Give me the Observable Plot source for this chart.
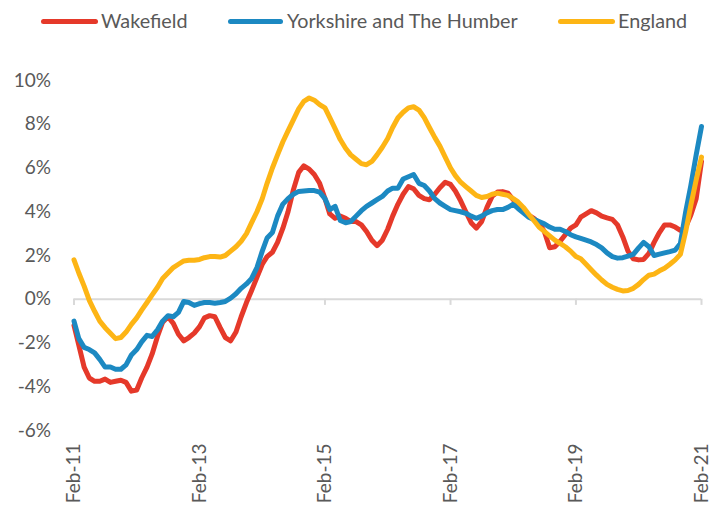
<!DOCTYPE html>
<html>
<head>
<meta charset="utf-8">
<script src="https://cdn.jsdelivr.net/npm/d3@7"></script>
<script src="https://cdn.jsdelivr.net/npm/@observablehq/plot@0.6"></script>
<style>
  html, body { margin: 0; padding: 0; background: #fff; }
  #wrap { position: relative; width: 713px; height: 511px; font-family: Lato, "Open Sans", sans-serif; }
  #legend { position: absolute; left: 0; top: 0; width: 713px; height: 40px; }
  .lg-line { position: absolute; height: 5px; border-radius: 3px; top: 19px; }
  .lg-text { position: absolute; top: 9px; font-size: 19.8px; color: #595959; line-height: 22px; white-space: nowrap; }
  #chart { position: absolute; left: 0; top: 40px; }
</style>
</head>
<body>
<div id="wrap">
  <div id="legend"></div>
  <div id="chart"></div>
</div>
<script>
// ---- data (annual % change, monthly Feb-2011 .. Feb-2021) ----
const seriesNames = ["Wakefield", "Yorkshire and The Humber", "England"];
const seriesColors = ["#E5392A", "#1C89C2", "#FDB515"];
const startMonth = "2011-02";
const tickLabels = ["Feb-11", "Feb-13", "Feb-15", "Feb-17", "Feb-19", "Feb-21"];
const yTicks = [-6, -4, -2, 0, 2, 4, 6, 8, 10];

const wakefield = [
  -1.2, -2.1, -3.1, -3.6, -3.75, -3.75, -3.65, -3.8, -3.75, -3.7, -3.8, -4.2,
  -4.15, -3.6, -3.1, -2.5, -1.7, -1.05, -0.8, -1.1, -1.6, -1.9, -1.75, -1.55,
  -1.25, -0.85, -0.75, -0.8, -1.3, -1.75, -1.9, -1.5, -0.8, -0.15, 0.4, 1.0,
  1.6, 1.95, 2.15, 2.6, 3.25, 4.0, 5.0, 5.8, 6.1, 5.95, 5.7, 5.3,
  4.6, 3.9, 3.7, 3.8, 3.7, 3.55, 3.55, 3.4, 3.1, 2.7, 2.45, 2.7,
  3.2, 3.8, 4.35, 4.8, 5.15, 5.05, 4.75, 4.6, 4.55, 4.8, 5.1, 5.35,
  5.25, 4.95, 4.5, 4.0, 3.5, 3.25, 3.55, 4.2, 4.7, 4.9, 4.92, 4.85,
  4.55, 4.3, 4.05, 3.85, 3.7, 3.5, 3.1, 2.35, 2.4, 2.65, 2.95, 3.25,
  3.4, 3.75, 3.9, 4.05, 3.95, 3.8, 3.72, 3.65, 3.4, 2.85, 2.2, 1.85,
  1.8, 1.82, 2.1, 2.6, 3.05, 3.4, 3.4, 3.3, 3.15, 3.3, 3.85, 4.6,
  6.3
];
const yorkshire = [
  -1.0, -1.8, -2.2, -2.3, -2.45, -2.75, -3.1, -3.1, -3.2, -3.2, -3.0, -2.55,
  -2.3, -1.95, -1.65, -1.7, -1.4, -1.0, -0.75, -0.8, -0.6, -0.1, -0.15, -0.28,
  -0.2, -0.15, -0.15, -0.18, -0.15, -0.1, 0.05, 0.25, 0.5, 0.7, 0.95, 1.45,
  2.2, 2.8, 3.05, 3.8, 4.35, 4.6, 4.8, 4.93, 4.95, 4.97, 4.97, 4.9,
  4.6, 4.1, 4.25, 3.6, 3.5, 3.55, 3.8, 4.05, 4.25, 4.4, 4.55, 4.7,
  4.95, 5.08, 5.08, 5.5, 5.6, 5.7, 5.3, 5.2, 4.95, 4.6, 4.4, 4.25,
  4.1, 4.05, 4.0, 3.93, 3.8, 3.7, 3.8, 3.95, 4.05, 4.1, 4.1, 4.2,
  4.35, 4.15, 3.95, 3.75, 3.65, 3.55, 3.45, 3.3, 3.2, 3.2, 3.1, 2.95,
  2.85, 2.78, 2.7, 2.62, 2.5, 2.35, 2.12, 1.95, 1.88, 1.9, 1.97, 2.05,
  2.35, 2.6, 2.4, 2.0, 2.06, 2.12, 2.18, 2.25, 2.55, 4.0, 5.2, 6.6,
  7.9
];
const england = [
  1.8, 1.2, 0.6, -0.05, -0.55, -1.0, -1.3, -1.55, -1.8, -1.75, -1.5, -1.15,
  -0.85, -0.5, -0.15, 0.2, 0.55, 0.95, 1.2, 1.45, 1.6, 1.75, 1.78, 1.78,
  1.82, 1.9, 1.95, 1.95, 1.93, 2.0, 2.2, 2.4, 2.65, 3.0, 3.5, 4.0,
  4.6, 5.3, 6.0, 6.6, 7.2, 7.7, 8.2, 8.7, 9.05, 9.2, 9.1, 8.9,
  8.75, 8.3, 7.8, 7.3, 6.9, 6.6, 6.4, 6.2, 6.15, 6.3, 6.6, 6.95,
  7.35, 7.85, 8.3, 8.55, 8.75, 8.8, 8.65, 8.3, 7.85, 7.4, 7.0, 6.5,
  6.0, 5.65, 5.35, 5.15, 4.95, 4.75, 4.65, 4.7, 4.8, 4.85, 4.8, 4.75,
  4.6, 4.45, 4.2, 3.9, 3.6, 3.3, 3.1, 2.9, 2.7, 2.55, 2.4, 2.2,
  1.95, 1.85, 1.6, 1.35, 1.1, 0.88, 0.68, 0.55, 0.45, 0.38, 0.4, 0.5,
  0.68, 0.9, 1.1, 1.15, 1.3, 1.42, 1.6, 1.8, 2.05, 3.1, 4.3, 5.45,
  6.5
];

// ---- build table ----
const start = d3.utcParse("%Y-%m")(startMonth);
const allSeries = [wakefield, yorkshire, england];
const rows = [];
allSeries.forEach((vals, s) => {
  vals.forEach((v, i) => rows.push({ date: d3.utcMonth.offset(start, i), value: v, series: seriesNames[s] }));
});
const tickDates = tickLabels.map(t => d3.utcParse("%b-%y")(t));
const fmtTick = d3.utcFormat("%b-%y");

const textColor = "#595959";

const plot = Plot.plot({
  width: 713,
  height: 471,
  marginLeft: 73.5,
  marginRight: 12,
  marginTop: 40,
  marginBottom: 81,
  style: { fontFamily: "Lato, 'Open Sans', sans-serif", fontSize: "19px", color: textColor, background: "transparent" },
  x: { type: "utc", domain: [tickDates[0], tickDates[tickDates.length - 1]] },
  y: { domain: [-6, 10] },
  color: { domain: seriesNames, range: seriesColors },
  marks: [
    Plot.ruleY([0], { stroke: "#d9d9d9", strokeWidth: 2 }),
    Plot.ruleX(tickDates, { x: d => d, y1: 0, y2: -0.28, stroke: "#d9d9d9", strokeWidth: 2 }),
    Plot.axisY({ ticks: yTicks, tickSize: 0, tickPadding: 23, tickFormat: d => d + "%", fill: textColor, label: null }),
    Plot.axisX({ ticks: tickDates, tickSize: 0, tickPadding: 13, tickRotate: -90, tickFormat: fmtTick, fill: textColor, label: null }),
    Plot.line(rows, { x: "date", y: "value", z: "series", stroke: "series", strokeWidth: 5, strokeLinecap: "round", strokeLinejoin: "round", curve: "linear" })
  ]
});
document.getElementById("chart").appendChild(plot);

// ---- legend ----
const legendPos = [
  { x1: 41, x2: 98, tx: 101 },
  { x1: 228, x2: 283, tx: 287 },
  { x1: 558, x2: 615, tx: 618 }
];
const lg = document.getElementById("legend");
seriesNames.forEach((name, i) => {
  const p = legendPos[i];
  const line = document.createElement("div");
  line.className = "lg-line";
  line.style.left = p.x1 + "px";
  line.style.width = (p.x2 - p.x1) + "px";
  line.style.background = seriesColors[i];
  lg.appendChild(line);
  const t = document.createElement("div");
  t.className = "lg-text";
  t.style.left = p.tx + "px";
  t.textContent = name;
  lg.appendChild(t);
});
</script>
</body>
</html>
